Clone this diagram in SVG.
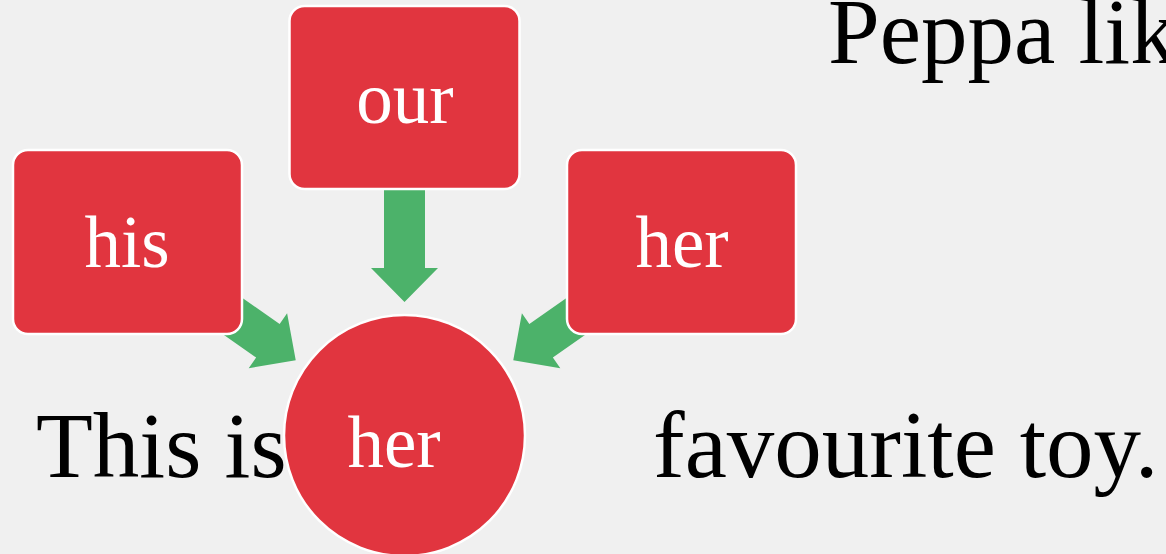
<svg xmlns="http://www.w3.org/2000/svg" width="1166" height="554" viewBox="0 0 1166 554">
<style>
.bg{fill:#F0F0F0}
.sent{font-family:"Liberation Serif","Times New Roman",serif;font-size:93px;fill:#000}
.box{fill:#E1353F;stroke:#FFFFFF;stroke-width:2.5}
.lbl{font-family:"Liberation Serif","Times New Roman",serif;font-size:73px;fill:#FFFFFF;text-anchor:middle}
.arr{fill:#4CB26A}
</style>
<defs>
<path id="arrow" d="M0,-20.5 L78,-20.5 L78,-33.5 L112,0 L78,33.5 L78,20.5 L0,20.5 Z"/>
</defs>
<rect class="bg" x="0" y="0" width="1166" height="554"/>
<g id="sentences">
<text class="sent" x="828" y="63">Peppa lik</text>
<text class="sent" x="36" y="477">This is</text>
<text class="sent" x="653" y="477" style="font-size:95px">favourite toy.</text>
</g>
<g id="connectors">
<use class="arr" href="#arrow" transform="translate(204,296) rotate(35)"/>
<use class="arr" href="#arrow" transform="translate(404.5,190) rotate(90)"/>
<use class="arr" href="#arrow" transform="translate(605,296) rotate(145)"/>
</g>
<g id="node-his">
<rect class="box" x="13" y="150" width="229" height="184" rx="15"/>
<text class="lbl" x="127" y="267">his</text>
</g>
<g id="node-our">
<rect class="box" x="289.5" y="6" width="230" height="183" rx="15"/>
<text class="lbl" x="405" y="123">our</text>
</g>
<g id="node-her-right">
<rect class="box" x="567" y="150" width="229" height="184" rx="15"/>
<text class="lbl" x="682" y="267">her</text>
</g>
<g id="node-her-center">
<circle class="box" cx="404.5" cy="435.5" r="120.5"/>
<text class="lbl" x="394" y="467">her</text>
</g>
</svg>
